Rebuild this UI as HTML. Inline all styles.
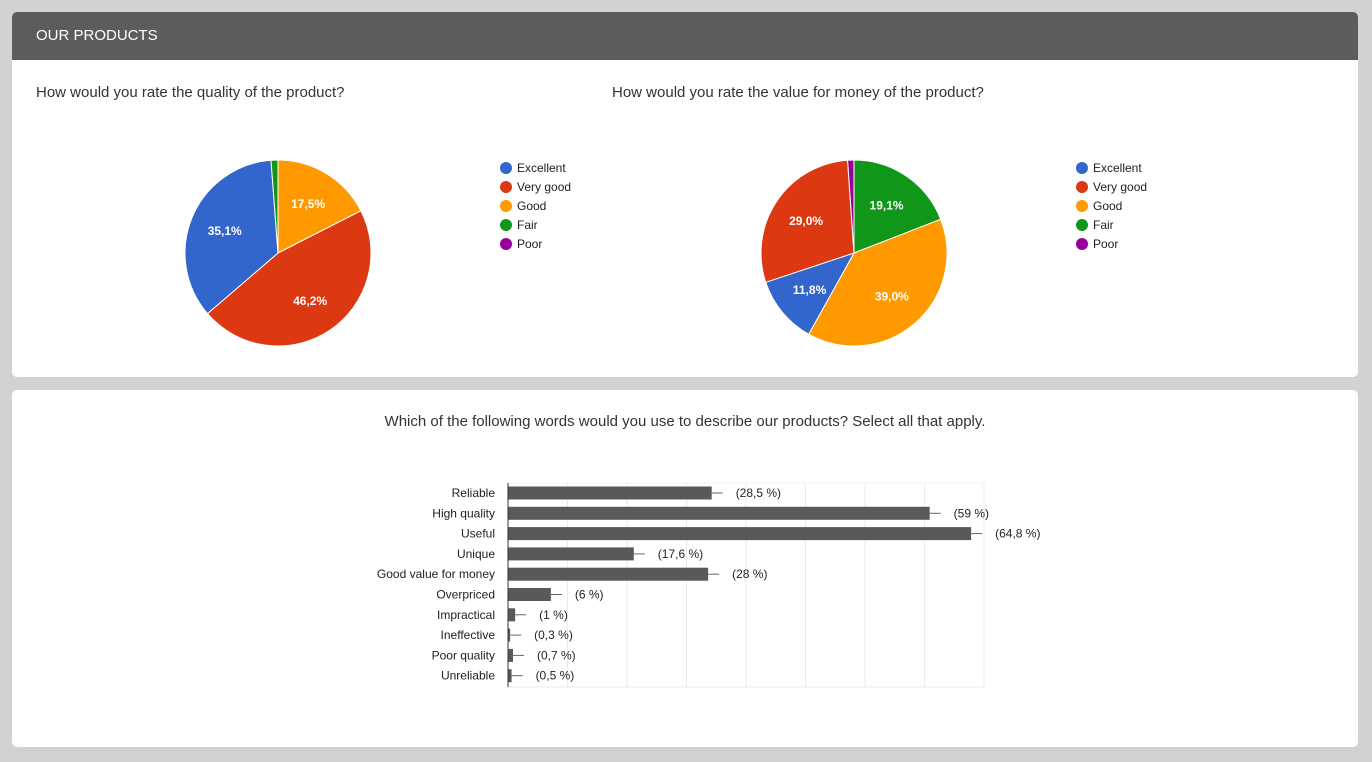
<!DOCTYPE html>
<html><head><meta charset="utf-8"><style>
body{margin:0;width:1372px;height:762px;background:#d2d2d2;font-family:"Liberation Sans",Arial,sans-serif;position:relative;overflow:hidden}
.card{position:absolute;left:12px;width:1346px;background:#fff;border-radius:5px;overflow:hidden}
.hdr{height:48px;background:#5c5c5c;color:#fff;font-size:15px;line-height:48px;padding-left:24px}
.q{position:absolute;font-size:15px;color:#333}
svg{position:absolute;left:0;top:0}
</style></head><body>
<div class="card" style="top:12px;height:365px">
<div class="hdr">OUR PRODUCTS</div>
<div class="q" style="left:24px;top:72px">How would you rate the quality of the product?</div>
<div class="q" style="left:600px;top:72px">How would you rate the value for money of the product?</div>
</div>
<div class="card" style="top:390px;height:357px">
<div class="q" style="left:0;width:1346px;text-align:center;top:23px">Which of the following words would you use to describe our products? Select all that apply.</div>
</div>
<svg id="svg" width="1372" height="762" font-family="Liberation Sans, Arial, sans-serif"></svg>
<script>
const legendNames=["Excellent","Very good","Good","Fair","Poor"];
const legendColors=["#3366cc","#dc3912","#ff9900","#109618","#990099"];
// pie 1 slices in clockwise drawing order from 12 o'clock
const pie1Names=["Good","Very good","Excellent","Fair"];
const pie1Values=[17.5,46.2,35.1,1.2];
const pie2Names=["Fair","Good","Excellent","Very good","Poor"];
const pie2Values=[19.1,39.0,11.8,29.0,1.1];
const barCats=["Reliable","High quality","Useful","Unique","Good value for money","Overpriced","Impractical","Ineffective","Poor quality","Unreliable"];
const barValues=[28.5,59,64.8,17.6,28,6,1,0.3,0.7,0.5];
const barLabels=["(28,5 %)","(59 %)","(64,8 %)","(17,6 %)","(28 %)","(6 %)","(1 %)","(0,3 %)","(0,7 %)","(0,5 %)"];
const NS="http://www.w3.org/2000/svg";const svg=document.getElementById('svg');
function mk(t,a,p){const e=document.createElementNS(NS,t);for(const k in a)e.setAttribute(k,a[k]);(p||svg).appendChild(e);return e;}
function col(n){return legendColors[legendNames.indexOf(n)];}
function pie(cx,cy,r,names,vals,lx,key){
 const tot=vals.reduce((a,b)=>a+b,0);let a0=0;
 vals.forEach((v,i)=>{const a1=a0+v/tot*2*Math.PI;
  const p=(a)=>[cx+r*Math.sin(a),cy-r*Math.cos(a)];const s=p(a0),e=p(a1);
  const path=mk('path',{d:`M${cx},${cy}L${s[0]},${s[1]}A${r},${r} 0 ${a1-a0>Math.PI?1:0} 1 ${e[0]},${e[1]}Z`,fill:col(names[i]),stroke:'#fff','stroke-width':1});
  
  
  if(v>=5){const m=(a0+a1)/2;const t=mk('text',{x:cx+r*0.62*Math.sin(m),y:cy-r*0.62*Math.cos(m)+4,'text-anchor':'middle',fill:'#fff','font-size':12,'font-weight':'bold'});
   t.textContent=v.toFixed(1).replace('.',',')+'%';
   
   }
  a0=a1;});
 legendNames.forEach((n,i)=>{const g=mk('g',{});
  
  
  mk('circle',{cx:lx,cy:168+i*19,r:6,fill:legendColors[i]},g);
  const t=mk('text',{x:lx+11,y:172+i*19,'font-size':12,fill:'#222'},g);t.textContent=n;});
}
pie(278,253,93,pie1Names,pie1Values,506,'quality-pie');
pie(854,253,93,pie2Names,pie2Values,1082,'value-pie');
// bar chart
const x0=508,x1=984,vmax=66.6,y0=483,step=20.3;
const xs=v=>x0+v/vmax*(x1-x0);
for(let k=1;k<=8;k++){const gl=mk('line',{x1:x0+k*(x1-x0)/8,x2:x0+k*(x1-x0)/8,y1:y0,y2:687,stroke:'#ebebeb'});
 
 }
const tl=mk('line',{x1:x0,x2:x1,y1:y0,y2:y0,stroke:'#f0f0f0'});
const bl=mk('line',{x1:x0,x2:x1,y1:687,y2:687,stroke:'#ebebeb'});
barCats.forEach((c,i)=>{const cy=y0+10+i*step;
 const b=mk('rect',{x:x0,y:cy-6.5,width:xs(barValues[i])-x0,height:13,fill:'#595959'});
 
 
 mk('line',{x1:xs(barValues[i]),x2:xs(barValues[i])+11,y1:cy,y2:cy,stroke:'#666'});
 const l=mk('text',{x:495,y:cy+4,'text-anchor':'end','font-size':12,fill:'#222'});l.textContent=c;
 
 
 const v=mk('text',{x:xs(barValues[i])+24,y:cy+4,'font-size':12,fill:'#222'});v.textContent=barLabels[i];
 
 
});
const ax=mk('line',{x1:x0,x2:x0,y1:y0,y2:687,stroke:'#333'});


</script>
</body></html>
